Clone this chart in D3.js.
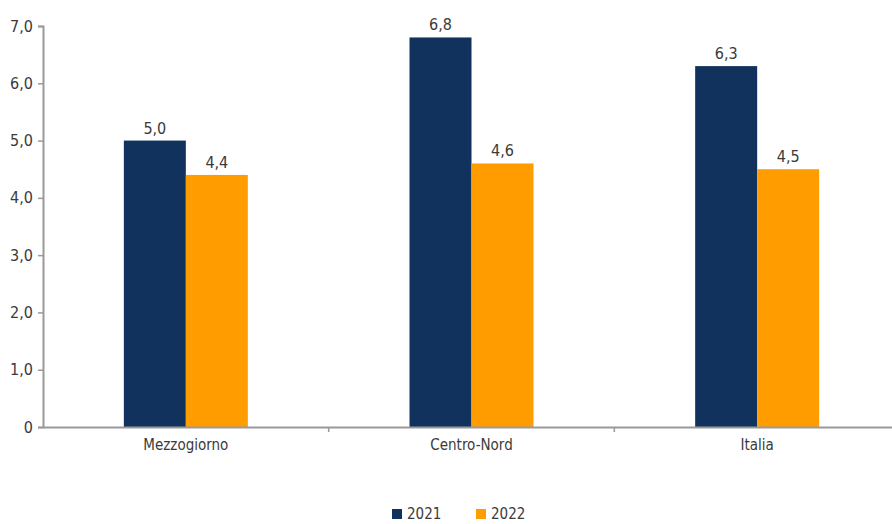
<!DOCTYPE html>
<html><head><meta charset="utf-8">
<script src="https://cdn.jsdelivr.net/npm/d3@7"></script>
<style>
body{margin:0;background:#fff;}
svg text{font-family:"Liberation Sans Narrow","DejaVu Sans Condensed",sans-serif;fill:#3a3a3a;}
</style></head><body>
<svg id="c" width="892" height="524"></svg>
<script>
const categories = ["Mezzogiorno","Centro-Nord","Italia"];
const seriesNames = ["2021","2022"];
const values2021 = [5.0, 6.8, 6.3];
const values2022 = [4.4, 4.6, 4.5];
const yTicks = [0,1,2,3,4,5,6,7];
const colors = ["#12325e","#ff9c00"];

(function(){
const svg = d3.select("#c");
const mLeft = 43, mRight = 900, mTop = 26, mBottom = 427;
const x = d3.scaleBand().domain(categories).range([mLeft, mRight]).paddingInner(0).paddingOuter(0);
const y = d3.scaleLinear().domain([0,7]).range([mBottom, mTop]);
const fmt = v => v === 0 ? "0" : d3.format(".1f")(v).replace(".", ",");

// y axis
const ya = svg.append("g").attr("transform",`translate(${mLeft},0)`)
  .call(d3.axisLeft(y).tickValues(yTicks).tickFormat(fmt).tickSize(5).tickPadding(5));
ya.select(".domain").attr("stroke","#999").attr("stroke-width",2);
ya.selectAll(".tick line").attr("stroke","#999").attr("stroke-width",1.5);
ya.selectAll(".tick text").style("font-size","16px").attr("fill","#3a3a3a");

const inner = d3.scaleBand().domain(seriesNames).range([0,124]);
const series = [values2021, values2022];
const data = [];
categories.forEach((c,i)=>series.forEach((s,j)=>data.push({c, k:seriesNames[j], v:s[i], j})));

const barOffset = (x.bandwidth()-124)/2;
svg.append("g").selectAll("rect").data(data).join("rect")
  .attr("x", d => x(d.c)+barOffset+inner(d.k))
  .attr("width", inner.bandwidth())
  .attr("y", d => y(d.v))
  .attr("height", d => y(0)-y(d.v))
  .attr("fill", d => colors[d.j]);

svg.append("g").selectAll("text").data(data).join("text")
  .attr("x", d => x(d.c)+barOffset+inner(d.k)+inner.bandwidth()/2)
  .attr("y", d => y(d.v)-7)
  .attr("text-anchor","middle")
  .style("font-size","16px")
  .text(d => fmt(d.v));

// x axis
const xa = svg.append("g").attr("transform",`translate(0,${mBottom})`)
  .call(d3.axisBottom(x).tickSize(0).tickPadding(12));
xa.select(".domain").attr("stroke","#999").attr("stroke-width",2);
xa.selectAll(".tick text").style("font-size","15px").attr("fill","#3a3a3a");
// boundary ticks
svg.append("g").selectAll("line").data(categories.slice(1)).join("line")
  .attr("x1", d => x(d)).attr("x2", d => x(d))
  .attr("y1", mBottom).attr("y2", mBottom+5)
  .attr("stroke","#999").attr("stroke-width",1.5);

// legend
const lg = svg.append("g");
const lx = [392, 476];
seriesNames.forEach((n,i)=>{
  lg.append("rect").attr("x",lx[i]).attr("y",509).attr("width",10).attr("height",10).attr("fill",colors[i]);
  lg.append("text").attr("x",lx[i]+15).attr("y",519).style("font-size","15px").text(n);
});
})();
</script></body></html>
